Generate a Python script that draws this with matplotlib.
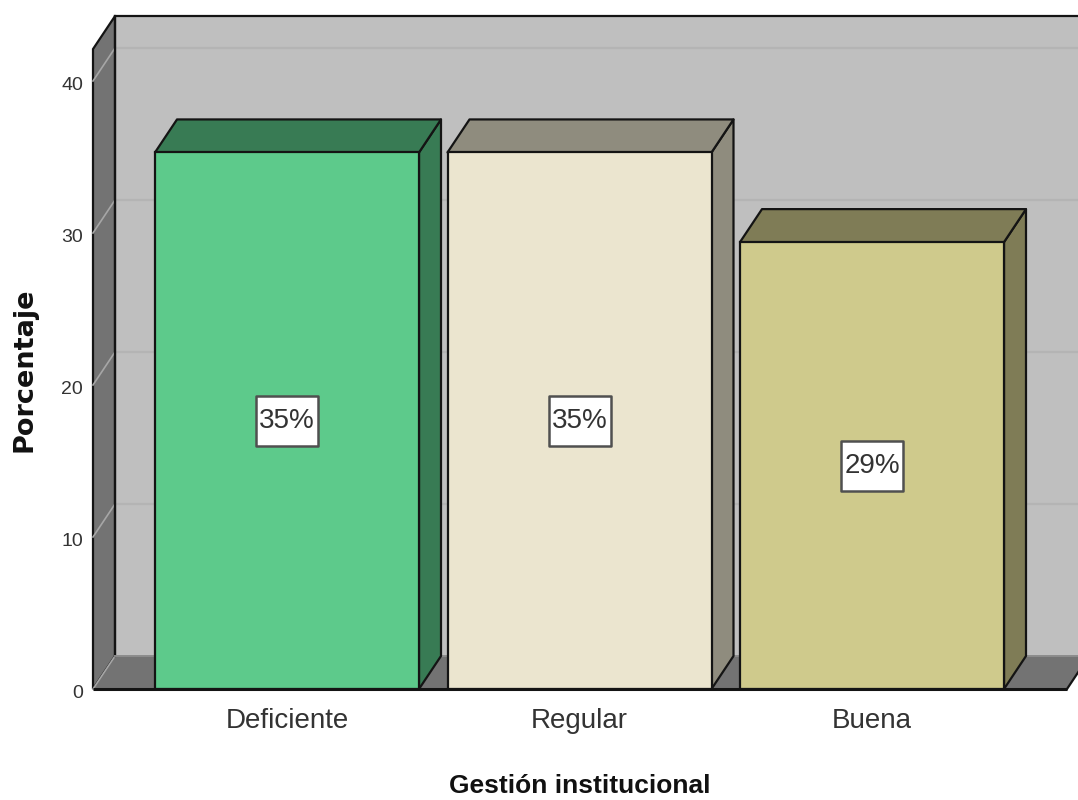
import matplotlib
matplotlib.use("Agg")
import matplotlib.pyplot as plt
from matplotlib.patches import Polygon, Rectangle

categories = ["Deficiente", "Regular", "Buena"]
values = [35.3, 35.3, 29.4]
value_labels = ["35%", "35%", "29%"]
y_ticks = [0, 10, 20, 30, 40]
x_title = "Gestión institucional"
y_title = "Porcentaje"

front = ["#5dca8b", "#ebe5cf", "#cfca8c"]
shade = ["#387b54", "#8f8c7e", "#7f7c56"]
WALL, SIDE, GRID, INK = "#bfbfbf", "#737373", "#b4b4b4", "#141414"
FONT = "Liberation Sans"

W, H = 1078, 800
fig = plt.figure(figsize=(W / 100, H / 100), dpi=100, facecolor="white")
ax = fig.add_axes([0, 0, 1, 1])
PX_X, PX_Y = 292.5, 15.2          # pixels per category step / per percent
X0, Y0 = 287, 689                 # pixel of category 0 / of value 0
ax.set_xlim(-X0 / PX_X, (W - X0) / PX_X)
ax.set_ylim((Y0 - H) / PX_Y, Y0 / PX_Y)
ax.axis("off")

DX, DY = 22 / PX_X, 33 / PX_Y     # depth of the 3-D box
BAR_W = 264 / PX_X
LEFT = (93 - X0) / PX_X
RIGHT = (1067 - X0) / PX_X
TOP = 42.1
LW = 1.6

# walls and floor
ax.add_patch(Polygon([(LEFT + DX, DY), (RIGHT + 2 * DX, DY), (RIGHT + 2 * DX, TOP + DY), (LEFT + DX, TOP + DY)],
                     fc=WALL, ec="none", zorder=1))
ax.add_patch(Polygon([(LEFT, 0), (LEFT + DX, DY), (LEFT + DX, TOP + DY), (LEFT, TOP)],
                     fc=SIDE, ec=INK, lw=LW, zorder=1.5))
ax.add_patch(Polygon([(LEFT, 0), (RIGHT, 0), (RIGHT + DX, DY), (LEFT + DX, DY)],
                     fc=SIDE, ec="none", zorder=1.5))
for t in y_ticks[1:]:
    ax.plot([LEFT + DX, RIGHT + 2 * DX], [t + DY, t + DY], color=GRID, lw=1.6, zorder=1.2)
for t in y_ticks:
    ax.plot([LEFT, LEFT + DX], [t, t + DY], color="#a6a6a6", lw=1.2, zorder=1.6)
ax.plot([LEFT + DX, RIGHT + 2 * DX], [TOP + DY, TOP + DY], color=INK, lw=LW, zorder=1.7)
ax.plot([LEFT + DX, LEFT + DX], [DY, TOP + DY], color=INK, lw=LW, zorder=1.7)
ax.plot([LEFT + DX, RIGHT + 2 * DX], [DY, DY], color="#8c8c8c", lw=1.4, zorder=1.7)
ax.plot([RIGHT, RIGHT + DX], [0, DY], color=INK, lw=LW, zorder=1.7)

# bars
BOX_W, BOX_H = 62 / PX_X, 50 / PX_Y
for i, v in enumerate(values):
    l, r = i - BAR_W / 2, i + BAR_W / 2
    ax.add_patch(Polygon([(r, 0), (r + DX, DY), (r + DX, v + DY), (r, v)],
                         fc=shade[i], ec=INK, lw=LW, joinstyle="round", zorder=3))
    ax.add_patch(Polygon([(l, v), (r, v), (r + DX, v + DY), (l + DX, v + DY)],
                         fc=shade[i], ec=INK, lw=LW, joinstyle="round", zorder=3))
    ax.bar(i, v, width=BAR_W, color=front[i], edgecolor=INK, linewidth=LW, zorder=4)
    cy = v / 2 - 0.05
    ax.add_patch(Rectangle((i - BOX_W / 2, cy - BOX_H / 2), BOX_W, BOX_H, fc="white",
                           ec="#505050", lw=1.8, joinstyle="round", zorder=5))
    ax.text(i, cy, value_labels[i], ha="center", va="center", fontsize=20,
            family=FONT, color="#333333", zorder=6)

ax.plot([LEFT, RIGHT], [0, 0], color=INK, lw=2.2, zorder=5, solid_capstyle="butt")

# tick labels
for t in y_ticks:
    ax.text(LEFT - 10 / PX_X, t - 0.3, str(t), ha="right", va="center", fontsize=14,
            family=FONT, color="#333333")
for i, c in enumerate(categories):
    ax.text(i, -2.13, c, ha="center", va="center", fontsize=20, family=FONT, color="#333333")

# titles
ax.text(1, -6.4, x_title, ha="center", va="center", fontsize=19, family=FONT,
        fontweight="bold", color="#111111")
ax.text((25 - X0) / PX_X, (Y0 - 370) / PX_Y, y_title, rotation=90, ha="center", va="center",
        fontsize=19.5, family="DejaVu Sans", fontweight="bold", color="#111111")

fig.savefig("out.png", dpi=100, facecolor="white")
